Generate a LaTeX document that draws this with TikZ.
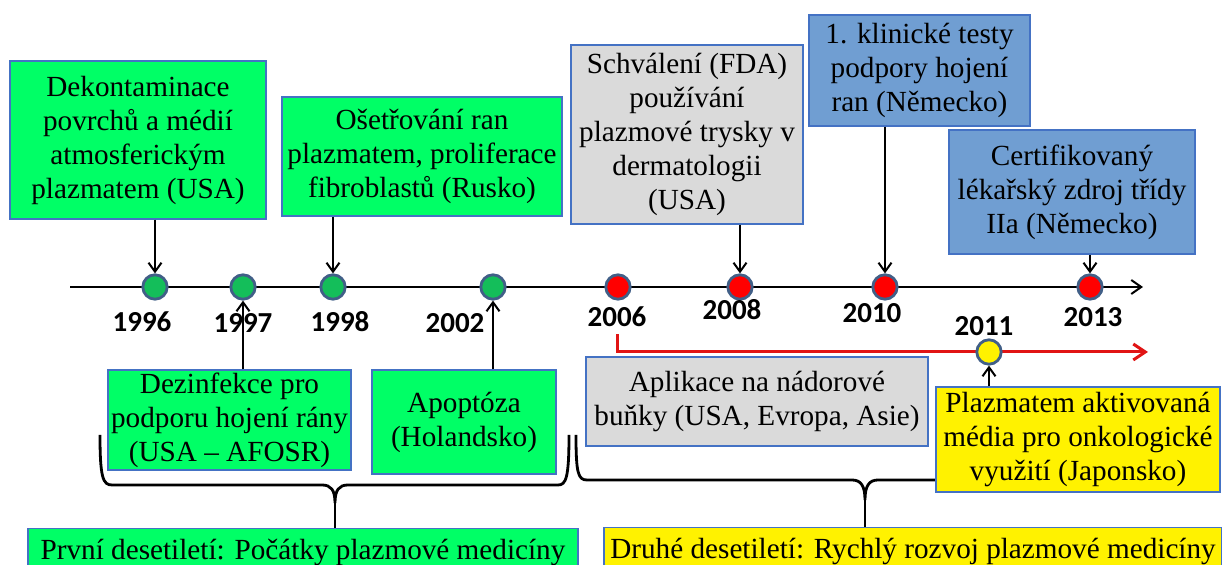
\documentclass[tikz,border=0pt]{standalone}
\usepackage{fontspec}
\setmainfont{Liberation Serif}
\newfontfamily\yearfont{Carlito}
\usetikzlibrary{positioning, arrows.meta, calc}
\definecolor{boxgreen}{RGB}{0,255,102}
\definecolor{dotgreen}{RGB}{20,190,90}
\definecolor{boxgray}{RGB}{218,218,218}
\definecolor{boxblue}{RGB}{112,158,210}
\definecolor{edgeblue}{RGB}{68,114,196}
\definecolor{ringblue}{RGB}{65,95,135}
\definecolor{keyred}{RGB}{225,20,20}

\begin{document}
\begin{tikzpicture}[x=0.5pt, y=-0.5pt, font=\fontsize{14.6}{17}\selectfont,
  >={Straight Barb[length=4.5pt, width=6.5pt]},
  evbox/.style={draw=edgeblue, line width=0.6pt, align=center, inner sep=0pt},
  yr/.style={font=\yearfont\bfseries\fontsize{14.5}{16}\selectfont},
  dot/.style={circle, draw=ringblue, line width=1.4pt, minimum size=12.2pt, inner sep=0pt},
  pin/.style={->, line width=1pt},
  bracepen/.style={line width=1.4pt}]
  \useasboundingbox (0,0) rectangle (1222,565);
  % Events above the time axis
  \node[evbox, fill=boxgreen, minimum width=128pt, minimum height=79pt] (b1996) at (138,140)
        {Dekontaminace\\povrchů a médií\\atmosferickým\\plazmatem (USA)};
  \node[evbox, fill=boxgreen, minimum width=140pt, minimum height=59.5pt] (b1998) at (422,156.5)
        {Ošetřování ran\\plazmatem, proliferace\\fibroblastů (Rusko)};
  \node[evbox, fill=boxgray, minimum width=116pt, minimum height=89.5pt] (b2008) at (687,134.5)
        {Schválení (FDA)\\používání\\plazmové trysky v\\dermatologii\\(USA)};
  \node[evbox, fill=boxblue, minimum width=110.5pt, minimum height=55.5pt] (b2010) at (919.5,70.5)
        {1. klinické testy\\podpory hojení\\ran (Německo)};
  \node[evbox, fill=boxblue, minimum width=123pt, minimum height=62pt] (b2013) at (1072,192)
        {Certifikovaný\\lékařský zdroj třídy\\IIa (Německo)};
  % Time axis
  \coordinate (t0) at (70,287);
  \coordinate (t1) at (1143,287);
  \draw[line width=1pt, -{Straight Barb[length=5pt, width=7pt]}] (t0) -- (t1);
  \foreach \y/\x/\c in {1996/155/dotgreen, 1997/243/dotgreen, 1998/333/dotgreen, 2002/493/dotgreen,
                        2006/618/red, 2008/740/red, 2010/885/red, 2013/1090/red}{
    \node[dot, fill=\c] (c\y) at (\x,287) {};
  }
  \foreach \y/\x/\h in {1996/142/322, 1997/243/323, 1998/340/322, 2002/455/323,
                        2006/617/317, 2008/732/310, 2010/872/313, 2013/1093/317, 2011/984/326}{
    \node[yr] (y\y) at (\x,\h) {\y};
  }
  % Second branch
  \coordinate (redend) at (1148,352);
  \draw[keyred, line width=1.5pt, -{Straight Barb[length=6pt, width=8pt]}] (y2006.south) |- (redend);
  \node[dot, fill=yellow] (c2011) at (989,352) {};
  % Decades
  \node[evbox, fill=boxgreen, minimum width=275pt, minimum height=24pt, anchor=north] (dec1) at (303,528)
        {První desetiletí: Počátky plazmové medicíny};
  \node[evbox, fill=yellow, minimum width=309pt, minimum height=24pt, anchor=north] (dec2) at (913,527)
        {Druhé desetiletí: Rychlý rozvoj plazmové medicíny};
  \coordinate (tip1) at (335,503);
  \coordinate (tip2) at (865,500);
  \draw[bracepen] (100,435) .. controls (100,478) and (103,485) .. (112,485) -- (322,485)
        .. controls (331,485) and (335,490) .. (tip1) .. controls (335,490) and (339,485) .. (348,485)
        -- (558,485) .. controls (566,485) and (569,478) .. (569,435);
  \draw[bracepen] (tip1) -- (tip1 |- dec1.north);
  \draw[bracepen] (576,435) .. controls (576,473) and (578,480) .. (587,480) -- (852,480)
        .. controls (861,480) and (865,486) .. (tip2) .. controls (865,486) and (869,480) .. (878,480)
        -- (1200,480) .. controls (1208,480) and (1211,473) .. (1211,435);
  \draw[bracepen] (tip2) -- (tip2 |- dec2.north);
  % Events below the time axis
  \node[evbox, fill=boxgreen, minimum width=121.5pt, minimum height=50pt] (b1997) at (229.5,420)
        {Dezinfekce pro\\podporu hojení rány\\(USA – AFOSR)};
  \node[evbox, fill=boxgreen, minimum width=92pt, minimum height=52pt] (b2002) at (464,422)
        {Apoptóza\\(Holandsko)};
  \node[evbox, fill=boxgray, minimum width=171pt, minimum height=44.5pt] (btumor) at (757,401.5)
        {Aplikace na nádorové\\buňky (USA, Evropa, Asie)};
  \node[evbox, fill=yellow, minimum width=142pt, minimum height=52.5pt] (b2011) at (1078,439.5)
        {Plazmatem aktivovaná\\média pro onkologické\\využití (Japonsko)};
  % Pointers
  \foreach \y in {1996, 1998, 2008, 2010, 2013}{
    \draw[pin] (c\y |- b\y.south) -- (c\y.north);
  }
  \foreach \y in {1997, 2002, 2011}{
    \draw[pin] (c\y |- b\y.north) -- (c\y.south);
  }
\end{tikzpicture}
\end{document}
